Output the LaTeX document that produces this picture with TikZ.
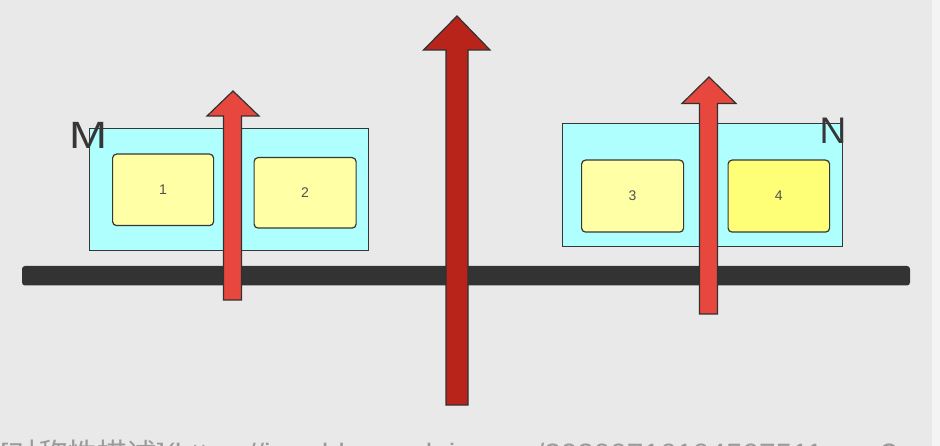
\documentclass[tikz,border=0pt]{standalone}
\usepackage{fontspec}
\setmainfont{Liberation Sans}
\newfontfamily\cjk{Noto Sans CJK SC}
\definecolor{bgc}{HTML}{E9E9E9}
\definecolor{stripc}{HTML}{F4F4F4}
\definecolor{cyanc}{HTML}{B0FFFF}
\definecolor{paley}{HTML}{FFFFA6}
\definecolor{brighty}{HTML}{FFFF77}
\definecolor{linec}{HTML}{363636}
\definecolor{barc}{HTML}{333333}
\definecolor{redl}{HTML}{E8473E}
\definecolor{redd}{HTML}{B9241A}
\definecolor{txtg}{HTML}{9A9A9A}
\definecolor{numc}{HTML}{505050}
\tikzset{
  outerbox/.style={draw=linec, line width=1pt, fill=cyanc, anchor=north west, inner sep=0pt},
  innerbox/.style={draw=linec, line width=1.2pt, rounded corners=4pt, anchor=north west, inner sep=0pt,
     font=\fontsize{14}{14}\selectfont, text=numc},
  biglabel/.style={anchor=base west, inner sep=0pt, text=linec, font=\fontsize{38}{38}\selectfont},
  arrowshape/.style={draw=linec!90!black, line width=1.2pt, line join=miter},
}
\begin{document}
\begin{tikzpicture}[x=1pt,y=-1pt]
\useasboundingbox (0,0) rectangle (940,446);
\begin{scope}
\clip (0,0) rectangle (940,446);
\fill[bgc] (0,0) rectangle (932,446);
\fill[stripc] (932,0) rectangle (940,446);

% ground bar
\fill[barc, rounded corners=3pt] (22,266) rectangle (910,285.5);

% left group M
\node[outerbox, minimum width=279pt, minimum height=122.5pt] (boxM) at (89,128) {};
\node[innerbox, fill=paley, minimum width=101pt, minimum height=71.5pt] (b1) at (112,153.5) {1};
\node[innerbox, fill=paley, minimum width=102pt, minimum height=70.5pt] (b2) at (253.5,157) {2};
\node[biglabel, xscale=1.2] (labM) at (69,149) {M};

% right group N
\node[outerbox, minimum width=280pt, minimum height=123pt] (boxN) at (562,123.5) {};
\node[innerbox, fill=paley, minimum width=102pt, minimum height=72pt] (b3) at (581,159.5) {3};
\node[innerbox, fill=brighty, minimum width=101.5pt, minimum height=72pt] (b4) at (727.5,159.5) {4};
\node[biglabel, font=\fontsize{37}{37}\selectfont] (labN) at (819.5,143.5) {N};

% arrows
\draw[arrowshape, fill=redl] (223.5,300) -- (223.5,116) -- (207,116) -- (233,91) -- (259,116) -- (241.5,116) -- (241.5,300) -- cycle;
\draw[arrowshape, fill=redl] (699.5,314) -- (699.5,103.5) -- (682,103.5) -- (709,77) -- (736,103.5) -- (717.5,103.5) -- (717.5,314) -- cycle;
\draw[arrowshape, fill=redd] (446,405) -- (446,50) -- (423.5,50) -- (457,16) -- (490,50) -- (468,50) -- (468,405) -- cycle;

% cut-off source line at the bottom
\node[anchor=base west, inner sep=0pt, text=txtg, font=\fontsize{28}{28}\selectfont, xscale=1.06] (src) at (0,463)
  {[{\cjk 对称性描述}](https://img-blog.csdnimg.cn/20200716104507511.png?};
\end{scope}
\end{tikzpicture}
\end{document}
